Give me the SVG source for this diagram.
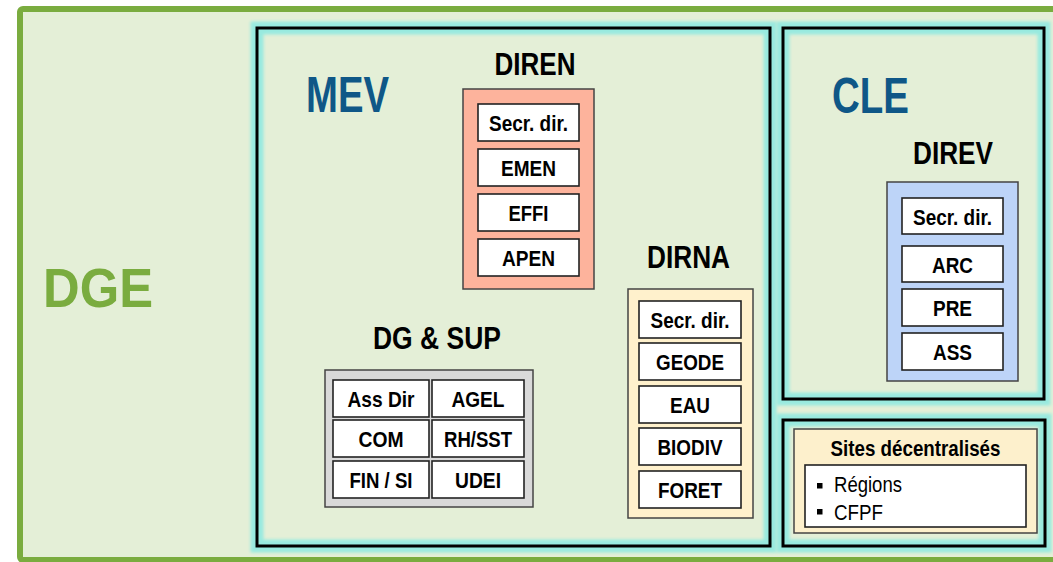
<svg xmlns="http://www.w3.org/2000/svg" width="1053" height="562" viewBox="0 0 1053 562">
<defs>
<filter id="glow" x="-10%" y="-10%" width="120%" height="120%"><feGaussianBlur stdDeviation="1.6"/></filter>
<style>
text{font-family:"Liberation Sans",Arial,sans-serif;font-weight:bold;text-anchor:middle;}
.big{font-size:50px;fill:#0f5787;}
.ttl{font-size:32px;fill:#000;}
.lbl{font-size:22px;fill:#000;}
.reg{font-weight:normal;text-anchor:start;font-size:22px;fill:#000;}
.cell{fill:#fff;stroke:#222;stroke-width:1.6;}
.grp{stroke:#444;stroke-width:1.5;}
.glow{fill:none;stroke:#98eadf;stroke-width:13;filter:url(#glow);}
.frame{fill:none;stroke:#000;stroke-width:3;}
</style>
</defs>
<rect x="0" y="0" width="1053" height="562" fill="#fff"/>
<g id="DGE">
<rect x="20" y="9" width="1060" height="551" rx="3" fill="#e4efd7" stroke="#7aac3f" stroke-width="6"/>
<text x="98" y="307" style="font-size:55px;fill:#7aac3f" textLength="110" lengthAdjust="spacingAndGlyphs">DGE</text>
</g>
<g id="MEV">
<rect class="glow" x="257" y="28" width="513" height="518"/>
<rect class="frame" x="257" y="28" width="513" height="518"/>
<text class="big" x="347.5" y="112" textLength="83" lengthAdjust="spacingAndGlyphs">MEV</text>
</g>
<g id="CLE">
<rect class="glow" x="783" y="28" width="261" height="371"/>
<rect class="frame" x="783" y="28" width="261" height="371"/>
<text class="big" x="870.5" y="113" textLength="77" lengthAdjust="spacingAndGlyphs">CLE</text>
</g>
<g id="DIREN">
<text class="ttl" x="535" y="75" textLength="81" lengthAdjust="spacingAndGlyphs">DIREN</text>
<rect class="grp" x="463" y="89" width="131" height="200" fill="#fdb39c"/>
<rect class="cell" x="478" y="104" width="101" height="37"/>
<text class="lbl" x="528.5" y="131" textLength="79" lengthAdjust="spacingAndGlyphs">Secr. dir.</text>
<rect class="cell" x="478" y="149" width="101" height="37"/>
<text class="lbl" x="528.5" y="176" textLength="55" lengthAdjust="spacingAndGlyphs">EMEN</text>
<rect class="cell" x="478" y="194" width="101" height="37"/>
<text class="lbl" x="528.5" y="221" textLength="40" lengthAdjust="spacingAndGlyphs">EFFI</text>
<rect class="cell" x="478" y="239" width="101" height="37"/>
<text class="lbl" x="528.5" y="266" textLength="53" lengthAdjust="spacingAndGlyphs">APEN</text>
</g>
<g id="DIRNA">
<text class="ttl" x="688.5" y="268" textLength="83" lengthAdjust="spacingAndGlyphs">DIRNA</text>
<rect class="grp" x="628" y="289" width="125" height="229" fill="#fff1cc"/>
<rect class="cell" x="639" y="301" width="102" height="37"/>
<text class="lbl" x="690" y="328" textLength="79" lengthAdjust="spacingAndGlyphs">Secr. dir.</text>
<rect class="cell" x="639" y="343" width="102" height="37"/>
<text class="lbl" x="690" y="370" textLength="68" lengthAdjust="spacingAndGlyphs">GEODE</text>
<rect class="cell" x="639" y="386" width="102" height="37"/>
<text class="lbl" x="690" y="413" textLength="40" lengthAdjust="spacingAndGlyphs">EAU</text>
<rect class="cell" x="639" y="428" width="102" height="37"/>
<text class="lbl" x="690" y="455" textLength="65" lengthAdjust="spacingAndGlyphs">BIODIV</text>
<rect class="cell" x="639" y="471" width="102" height="37"/>
<text class="lbl" x="690" y="498" textLength="64" lengthAdjust="spacingAndGlyphs">FORET</text>
</g>
<g id="DIREV">
<text class="ttl" x="953" y="164" textLength="80" lengthAdjust="spacingAndGlyphs">DIREV</text>
<rect class="grp" x="887" y="182" width="131" height="199" fill="#bdd4f8"/>
<rect class="cell" x="902" y="198" width="101" height="36"/>
<text class="lbl" x="952.5" y="224.5" textLength="79" lengthAdjust="spacingAndGlyphs">Secr. dir.</text>
<rect class="cell" x="902" y="246" width="101" height="36"/>
<text class="lbl" x="952.5" y="272.5" textLength="41" lengthAdjust="spacingAndGlyphs">ARC</text>
<rect class="cell" x="902" y="289" width="101" height="37"/>
<text class="lbl" x="952.5" y="316" textLength="39" lengthAdjust="spacingAndGlyphs">PRE</text>
<rect class="cell" x="902" y="333" width="101" height="37"/>
<text class="lbl" x="952.5" y="360" textLength="39" lengthAdjust="spacingAndGlyphs">ASS</text>
</g>
<g id="DGSUP">
<text class="ttl" x="437" y="349" textLength="128" lengthAdjust="spacingAndGlyphs">DG &amp; SUP</text>
<rect class="grp" x="325" y="370" width="208" height="137" fill="#d9d9d9"/>
<rect class="cell" x="333" y="380" width="96" height="37"/>
<text class="lbl" x="381" y="407" textLength="67" lengthAdjust="spacingAndGlyphs">Ass Dir</text>
<rect class="cell" x="432" y="380" width="92" height="37"/>
<text class="lbl" x="478" y="407" textLength="53" lengthAdjust="spacingAndGlyphs">AGEL</text>
<rect class="cell" x="333" y="420" width="96" height="37"/>
<text class="lbl" x="381" y="447" textLength="45" lengthAdjust="spacingAndGlyphs">COM</text>
<rect class="cell" x="432" y="420" width="92" height="37"/>
<text class="lbl" x="478" y="447" textLength="68" lengthAdjust="spacingAndGlyphs">RH/SST</text>
<rect class="cell" x="333" y="461" width="96" height="37"/>
<text class="lbl" x="381" y="488" textLength="63" lengthAdjust="spacingAndGlyphs">FIN / SI</text>
<rect class="cell" x="432" y="461" width="92" height="37"/>
<text class="lbl" x="478" y="488" textLength="46" lengthAdjust="spacingAndGlyphs">UDEI</text>
</g>
<g id="Sites">
<rect class="glow" x="783" y="420" width="262" height="126"/>
<rect class="frame" x="783" y="420" width="262" height="126"/>
<rect class="grp" x="794" y="429" width="243" height="104" fill="#fdf0cc"/>
<text class="lbl" x="915.5" y="456" textLength="170" lengthAdjust="spacingAndGlyphs">Sites décentralisés</text>
<rect class="cell" x="805" y="465" width="221" height="62"/>
<rect x="817" y="483" width="5.5" height="5.5" fill="#000"/>
<text class="reg" x="834" y="492" textLength="68" lengthAdjust="spacingAndGlyphs">Régions</text>
<rect x="817" y="509" width="5.5" height="5.5" fill="#000"/>
<text class="reg" x="834" y="520" textLength="49" lengthAdjust="spacingAndGlyphs">CFPF</text>
</g>
<g id="connectors"/>
</svg>
